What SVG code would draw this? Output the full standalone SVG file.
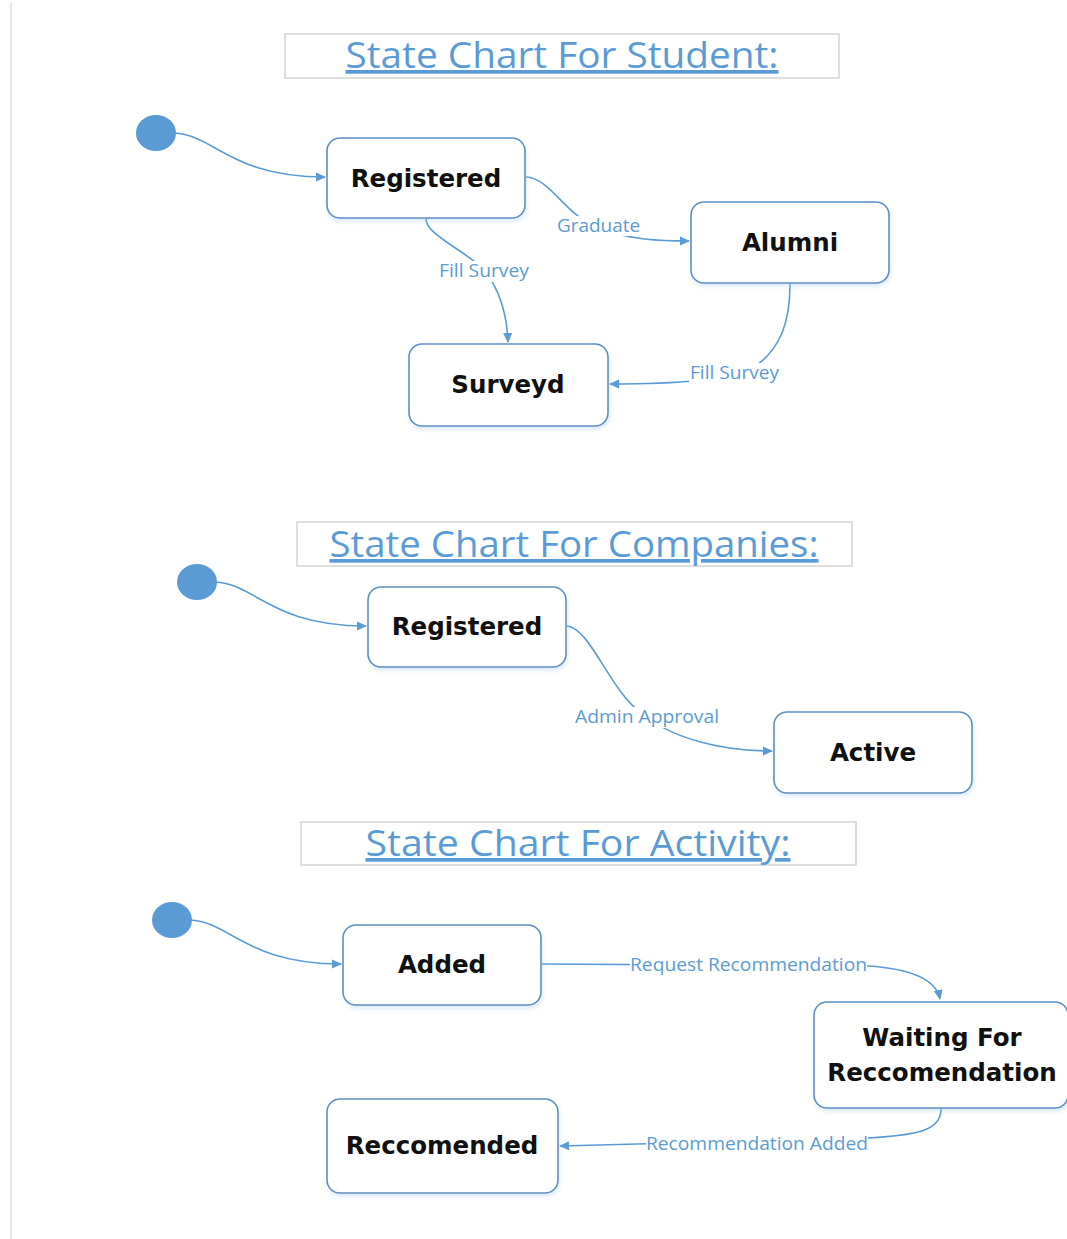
<svg xmlns="http://www.w3.org/2000/svg" width="1067" height="1239" viewBox="0 0 1067 1239">
<defs>
<marker id="arr" markerWidth="10" markerHeight="10" refX="9" refY="5" orient="auto" markerUnits="userSpaceOnUse">
<path d="M0,0.5 L10,5 L0,9.5 Z" fill="#5B9BD5"/>
</marker>
<filter id="sh" x="-10%" y="-10%" width="130%" height="140%">
<feDropShadow dx="1" dy="3" stdDeviation="2" flood-color="#9dc3e6" flood-opacity="0.35"/>
</filter>
</defs>
<style>
.node{fill:#fff;stroke:#5f8fc1;stroke-width:1.6;filter:url(#sh)}
.nl{font-family:"DejaVu Sans",Verdana,sans-serif;font-weight:bold;font-size:24.5px;fill:#111;text-anchor:middle}
.init{fill:#5B9BD5}
.edge{fill:none;stroke:#5B9BD5;stroke-width:1.6}
.el{font-family:"Open Sans","Noto Sans",sans-serif;font-size:18px;fill:#5B9BD5;text-anchor:middle}
.lb{fill:#fff}
.tbox{fill:#fff;stroke:#dedede;stroke-width:2}
.title{font-family:"Open Sans","Noto Sans",sans-serif;font-size:37px;fill:#5B9BD5;text-anchor:middle;text-decoration:underline}
</style>
<rect width="1067" height="1239" fill="#fff"/>
<line x1="11" y1="3" x2="11" y2="1239" stroke="#e6e6e6" stroke-width="2"/>

<g id="title-student"><rect class="tbox" x="285" y="34" width="554" height="44"/><text class="title" x="562" y="68" textLength="433" lengthAdjust="spacingAndGlyphs">State Chart For Student:</text></g>
<g id="title-companies"><rect class="tbox" x="297" y="522" width="555" height="44"/><text class="title" x="574" y="557" textLength="489" lengthAdjust="spacingAndGlyphs">State Chart For Companies:</text></g>
<g id="title-activity"><rect class="tbox" x="301" y="822" width="555" height="43"/><text class="title" x="578" y="856" textLength="425" lengthAdjust="spacingAndGlyphs">State Chart For Activity:</text></g>

<g id="connectors">
<path class="edge" d="M174,133 C215,135 230,177 325,177" marker-end="url(#arr)"/>
<path class="edge" d="M526,177 C550,178 565,215 598,228 C630,240 660,241 689,241" marker-end="url(#arr)"/>
<path class="edge" d="M426,219 C426,235 465,250 484,270 C500,290 507,315 508,342" marker-end="url(#arr)"/>
<path class="edge" d="M790,284 C790,320 782,350 750,370 C720,383 650,384 610,384" marker-end="url(#arr)"/>
<path class="edge" d="M215,582 C256,584 271,626 366,626" marker-end="url(#arr)"/>
<path class="edge" d="M567,626 C590,628 610,690 640,712 C670,738 720,751 772,751" marker-end="url(#arr)"/>
<path class="edge" d="M190,920 C231,922 246,964 341,964" marker-end="url(#arr)"/>
<path class="edge" d="M542,964 L868,966 C900,968 935,975 940,999" marker-end="url(#arr)"/>
<path class="edge" d="M941,1109 C941,1130 920,1135 868,1138 L560,1146" marker-end="url(#arr)"/>
<rect class="lb" x="556" y="216" width="86" height="20"/>
<text class="el" x="598.5" y="232" textLength="83" lengthAdjust="spacingAndGlyphs">Graduate</text>
<rect class="lb" x="438" y="261" width="92" height="21"/>
<text class="el" x="484" y="277" textLength="90" lengthAdjust="spacingAndGlyphs">Fill Survey</text>
<rect class="lb" x="689" y="363" width="92" height="21"/>
<text class="el" x="734.5" y="379" textLength="89" lengthAdjust="spacingAndGlyphs">Fill Survey</text>
<rect class="lb" x="574" y="707" width="146" height="21"/>
<text class="el" x="647" y="723" textLength="144" lengthAdjust="spacingAndGlyphs">Admin Approval</text>
<rect class="lb" x="630" y="955" width="237" height="20"/>
<text class="el" x="748.5" y="971" textLength="237" lengthAdjust="spacingAndGlyphs">Request Recommendation</text>
<rect class="lb" x="646" y="1134" width="222" height="20"/>
<text class="el" x="757" y="1150" textLength="222" lengthAdjust="spacingAndGlyphs">Recommendation Added</text>
</g>

<g id="init-student"><ellipse class="init" cx="156" cy="133" rx="20" ry="18"/></g>
<g id="init-companies"><ellipse class="init" cx="197" cy="582" rx="20" ry="18"/></g>
<g id="init-activity"><ellipse class="init" cx="172" cy="920" rx="20" ry="18"/></g>

<g id="student-registered"><rect class="node" x="327" y="138" width="198" height="80" rx="13"/><text class="nl" x="426" y="187">Registered</text></g>
<g id="student-alumni"><rect class="node" x="691" y="202" width="198" height="81" rx="13"/><text class="nl" x="790" y="251">Alumni</text></g>
<g id="student-surveyd"><rect class="node" x="409" y="344" width="199" height="82" rx="13"/><text class="nl" x="508" y="393">Surveyd</text></g>
<g id="company-registered"><rect class="node" x="368" y="587" width="198" height="80" rx="13"/><text class="nl" x="467" y="635">Registered</text></g>
<g id="company-active"><rect class="node" x="774" y="712" width="198" height="81" rx="13"/><text class="nl" x="873" y="761">Active</text></g>
<g id="activity-added"><rect class="node" x="343" y="925" width="198" height="80" rx="13"/><text class="nl" x="442" y="973">Added</text></g>
<g id="activity-waiting"><rect class="node" x="814" y="1002" width="254" height="106" rx="13"/><text class="nl" x="942" y="1046">Waiting For</text><text class="nl" x="942" y="1081">Reccomendation</text></g>
<g id="activity-reccomended"><rect class="node" x="327" y="1099" width="231" height="94" rx="13"/><text class="nl" x="442" y="1154">Reccomended</text></g>
</svg>
